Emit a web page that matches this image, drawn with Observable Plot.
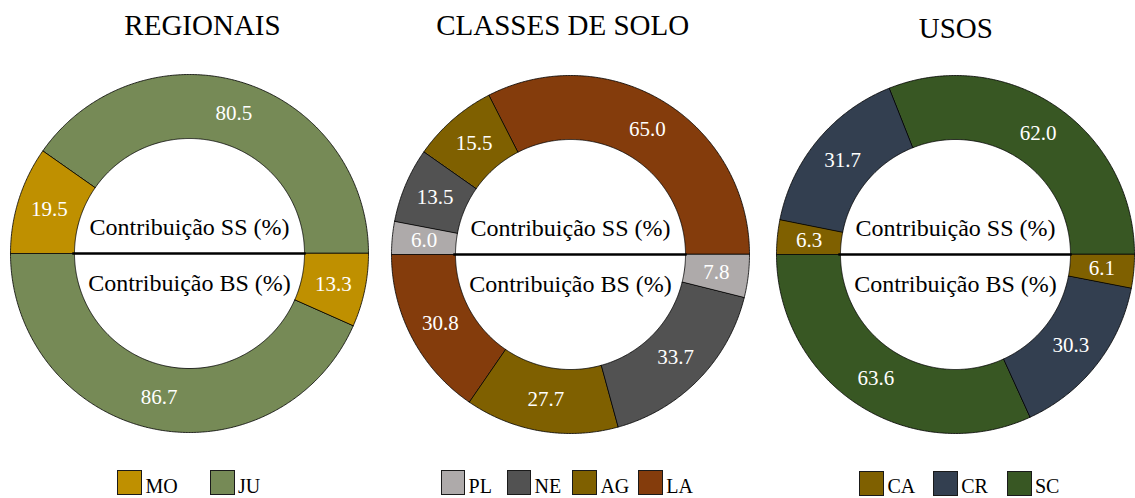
<!DOCTYPE html>
<html><head><meta charset="utf-8">
<script src="https://cdn.jsdelivr.net/npm/d3@7"></script>
<script src="https://cdn.jsdelivr.net/npm/@observablehq/plot@0.6"></script>
<style>
html,body{margin:0;padding:0;background:#fff;overflow:hidden;}
#root{position:relative;width:1135px;height:498px;overflow:hidden;font-family:"Liberation Serif","Times New Roman",serif;color:#000;}
#root svg{max-width:none !important;}
.title{position:absolute;font-size:29px;line-height:29px;white-space:nowrap;transform:translateX(-50%);}
.panel{position:absolute;width:364px;height:364px;}
.sw{position:absolute;width:24.5px;height:25px;border:1.3px solid #1a1a1a;box-sizing:border-box;}
.lab{position:absolute;font-size:20px;line-height:15px;white-space:nowrap;}
</style></head><body><div id="root"></div>
<script>
// ---- data ----
const titles = ["REGIONAIS", "CLASSES DE SOLO", "USOS"];
const halfLabels = ["Contribuição SS (%)", "Contribuição BS (%)"];

const regCategories = ["MO", "JU"];
const regSS = [19.5, 80.5];
const regBS = [13.3, 86.7];
const regColors = ["#BF9000", "#768A56"];

const soloCategories = ["PL", "NE", "AG", "LA"];
const soloSS = [6.0, 13.5, 15.5, 65.0];
const soloBS = [7.8, 33.7, 27.7, 30.8];
const soloColors = ["#AEAAAA", "#525252", "#7F6000", "#843C0C"];

const usoCategories = ["CA", "CR", "SC"];
const usoSS = [6.3, 31.7, 62.0];
const usoBS = [6.1, 30.3, 63.6];
const usoColors = ["#7F6000", "#333F50", "#385723"];

// ---- layout ----
const panels = [
  {title: titles[0], cats: regCategories, ss: regSS, bs: regBS, colors: regColors,
   cx: 189, cy: 252.5, tx: 202.5, tb: 35.7, lx: 117.4, lw: 92.6, ly: 470},
  {title: titles[1], cats: soloCategories, ss: soloSS, bs: soloBS, colors: soloColors,
   cx: 569.5, cy: 253.5, tx: 562.7, tb: 35.7, lx: 440.6, lw: 65.9, ly: 470},
  {title: titles[2], cats: usoCategories, ss: usoSS, bs: usoBS, colors: usoColors,
   cx: 955, cy: 254, tx: 955.8, tb: 38, lx: 859.4, lw: 73.8, ly: 471}
];

const R_IN = 0.6425;
const SIZE = 364, M = 3;
const root = document.getElementById("root");

function build(cats, ss, bs) {
  const polys = [], labels = [];
  [[ss, 180], [bs, 0]].forEach(([vals, base], h) => {
    let cum = 0;
    vals.forEach((v, i) => {
      const a0 = base - 1.8 * cum, a1 = base - 1.8 * (cum + v);
      const id = h + "-" + i;
      const n = Math.max(2, Math.ceil(Math.abs(a1 - a0) / 0.5));
      for (let k = 0; k <= n; k++) {
        const a = (a0 + (a1 - a0) * k / n) * Math.PI / 180;
        polys.push({id, cat: cats[i], x: Math.cos(a), y: Math.sin(a)});
      }
      for (let k = n; k >= 0; k--) {
        const a = (a0 + (a1 - a0) * k / n) * Math.PI / 180;
        polys.push({id, cat: cats[i], x: R_IN * Math.cos(a), y: R_IN * Math.sin(a)});
      }
      const am = (a0 + a1) / 2 * Math.PI / 180, rm = (1 + R_IN) / 2;
      labels.push({x: rm * Math.cos(am), y: rm * Math.sin(am), text: v.toFixed(1)});
      cum += v;
    });
  });
  return {polys, labels};
}

panels.forEach(p => {
  // title
  const t = document.createElement("div");
  t.className = "title";
  t.textContent = p.title;
  t.style.left = p.tx + "px";
  t.style.top = (p.tb - 24.3) + "px";
  root.appendChild(t);

  const {polys, labels} = build(p.cats, p.ss, p.bs);
  const chart = Plot.plot({
    width: SIZE, height: SIZE, margin: M,
    x: {domain: [-1, 1], axis: null},
    y: {domain: [-1, 1], axis: null},
    color: {domain: p.cats, range: p.colors},
    style: {fontFamily: "'Liberation Serif','Times New Roman',serif", overflow: "visible", background: "transparent"},
    marks: [
      Plot.line(polys, {x: "x", y: "y", z: "id", fill: "cat", stroke: "#000", strokeWidth: 0.8, curve: "linear-closed"}),
      Plot.text(labels, {x: "x", y: "y", text: "text", fill: "white", fontSize: 21}),
      Plot.ruleY([0], {x1: -0.652, x2: 0.652, stroke: "#000", strokeWidth: 2.5}),
      Plot.text([halfLabels[0]], {x: 0, y: 0.149, text: d => d, fontSize: 24, fill: "#000"}),
      Plot.text([halfLabels[1]], {x: 0, y: -0.167, text: d => d, fontSize: 24, fill: "#000"})
    ]
  });
  const wrap = document.createElement("div");
  wrap.className = "panel";
  wrap.style.left = (p.cx - SIZE / 2) + "px";
  wrap.style.top = (p.cy - SIZE / 2) + "px";
  wrap.appendChild(chart);
  root.appendChild(wrap);

  // legend
  p.cats.forEach((c, i) => {
    const x = p.lx + i * p.lw;
    const sw = document.createElement("div");
    sw.className = "sw";
    sw.style.left = x + "px";
    sw.style.top = p.ly + "px";
    sw.style.background = p.colors[i];
    root.appendChild(sw);
    const lb = document.createElement("div");
    lb.className = "lab";
    lb.textContent = c;
    lb.style.left = (x + 28) + "px";
    lb.style.top = (493.5 - 14.25) + "px";
    root.appendChild(lb);
  });
});
</script></body></html>
